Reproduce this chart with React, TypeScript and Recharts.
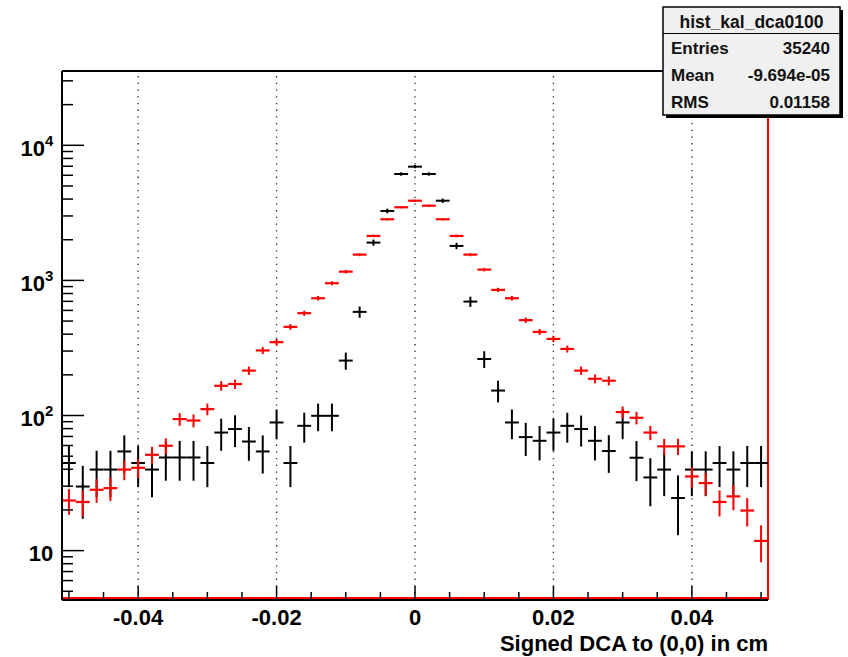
import React from "react"
import { ScatterChart, Scatter, XAxis, YAxis, ErrorBar, ReferenceLine } from "recharts"

// bin centres of the 51 bins (width 0.002 cm)
const binCenters = [
  -0.050, -0.048, -0.046, -0.044, -0.042, -0.040, -0.038, -0.036, -0.034, -0.032,
  -0.030, -0.028, -0.026, -0.024, -0.022, -0.020, -0.018, -0.016, -0.014, -0.012,
  -0.010, -0.008, -0.006, -0.004, -0.002, 0.000, 0.002, 0.004, 0.006, 0.008,
  0.010, 0.012, 0.014, 0.016, 0.018, 0.020, 0.022, 0.024, 0.026, 0.028,
  0.030, 0.032, 0.034, 0.036, 0.038, 0.040, 0.042, 0.044, 0.046, 0.048, 0.050
]
const binHalfWidth = 0.001

// black histogram (hist_kal_dca0100)
const blackCounts = [
  44.5, 29.8, 39.8, 39.8, 54.2, 44.5, 39.8, 48.9, 48.9, 48.9,
  44.5, 74.8, 79.4, 64.2, 54.2, 88.8, 44.5, 83.9, 99.5, 99.5,
  255, 585, 1905, 3266, 6134, 6948, 6134, 3890, 1800, 697,
  262, 153, 88.8, 69.2, 65.0, 74.8, 83.9, 79.4, 65.0, 54.6,
  88.8, 48.7, 34.8, 39.8, 24.5, 39.8, 39.8, 44.5, 39.8, 44.5, 44.5
]
const blackErrors = [
  15, 12.6, 15, 15, 17, 15, 15, 16, 16, 16,
  15, 20, 21, 18, 17, 22, 15, 21, 23, 23,
  37, 56, 100, 130, 180, 190, 180, 145, 98, 61,
  37, 28, 22, 19, 18.5, 20, 21, 20.5, 18.5, 17,
  22, 16, 13.5, 14.5, 11.5, 14.5, 14.5, 15, 14.5, 15, 15
]

// red histogram
const redCounts = [
  23.5, 22.9, 28.2, 29.0, 39.8, 41.0, 51.2, 59.7, 94.1, 91.8,
  111.5, 166, 171, 215, 303, 349, 453, 572, 738, 953,
  1161, 1552, 2134, 2835, 3478, 3890, 3572, 2835, 2134, 1552,
  1202, 851, 738, 508, 416, 369, 311, 215, 187, 181,
  106, 96.2, 74.8, 59.1, 59.1, 35.4, 31.6, 22.9, 25.2, 19.8, 11.8
]
const redErrors = [
  5.1, 5, 5.6, 5.7, 6.6, 6.7, 7.5, 8.1, 10.2, 10,
  11, 13.5, 13.7, 15.4, 18, 19.6, 22, 25, 28.5, 32,
  36, 41, 48, 56, 62, 65, 63, 56, 48, 41,
  36, 30.5, 28.5, 23.5, 21.4, 20, 18.5, 15.4, 14.3, 14,
  10.8, 10.3, 9.1, 8.1, 8.1, 6.2, 5.9, 5, 5.3, 4.7, 3.6
]

const xDomain = [-0.051, 0.051]
const yDomain = [4.31, 35480]

const xMajorTicks = [-0.04, -0.02, 0, 0.02, 0.04]
const xMajorLabels = ["-0.04", "-0.02", "0", "0.02", "0.04"]
const xMinorTicks = [
  -0.05, -0.045, -0.035, -0.03, -0.025, -0.015, -0.01, -0.005,
  0.005, 0.01, 0.015, 0.025, 0.03, 0.035, 0.045, 0.05
]
const yMajorTicks = [10, 100, 1000, 10000]
const yMajorExponents = ["", "2", "3", "4"]
const yMinorTicks = [
  5, 6, 7, 8, 9, 20, 30, 40, 50, 60, 70, 80, 90,
  200, 300, 400, 500, 600, 700, 800, 900,
  2000, 3000, 4000, 5000, 6000, 7000, 8000, 9000, 20000, 30000
]

const xTitle = "Signed DCA to (0,0) in cm"
const statsTitle = "hist_kal_dca0100"
const statsNames = ["Entries", "Mean", "RMS"]
const statsValues = ["35240", "-9.694e-05", "0.01158"]

const font = "'Liberation Sans', Arial, Helvetica, sans-serif"

const blackData = binCenters.map((x, i) => ({ x, y: blackCounts[i], ey: blackErrors[i], ex: binHalfWidth }))
const redData = binCenters.map((x, i) => ({ x, y: redCounts[i], ey: redErrors[i], ex: binHalfWidth }))

const xTicks = [...xMajorTicks, ...xMinorTicks].sort((a, b) => a - b)
const yTicks = [...yMajorTicks, ...yMinorTicks].sort((a, b) => a - b)

function XTick(props: any) {
  const { x, y, payload } = props
  const i = xMajorTicks.indexOf(payload.value)
  return (
    <g>
      <line x1={x} x2={x} y1={y} y2={y - (i >= 0 ? 14 : 8)} stroke="#000" strokeWidth={1.5} />
      {i >= 0 && (
        <text x={x} y={y + 25} textAnchor="middle" fontFamily={font} fontWeight="bold" fontSize={22} fill="#000">
          {xMajorLabels[i]}
        </text>
      )}
    </g>
  )
}

function YTick(props: any) {
  const { x, y, payload } = props
  const i = yMajorTicks.indexOf(payload.value)
  return (
    <g>
      <line x1={x} x2={x + (i >= 0 ? 22 : 11)} y1={y} y2={y} stroke="#000" strokeWidth={1.5} />
      {i >= 0 && (
        <text x={x - 8.7} y={y + 10.4} textAnchor="end" fontFamily={font} fontWeight="bold" fontSize={22} fill="#000">
          10
          {yMajorExponents[i] && <tspan dy={-9.7} fontSize={15}>{yMajorExponents[i]}</tspan>}
        </text>
      )}
    </g>
  )
}

const noShape = () => <g />

export default function App() {
  return (
    <div style={{ position: "absolute", left: 0, top: 0, width: 848, height: 657, background: "#fff" }}>
      <ScatterChart width={848} height={657} margin={{ top: 71, right: 80, bottom: 7, left: 2 }}>
        <XAxis
          dataKey="x"
          type="number"
          domain={xDomain}
          allowDataOverflow
          ticks={xTicks}
          interval={0}
          tick={<XTick />}
          tickLine={false}
          tickSize={0}
          tickMargin={0}
          height={50}
          axisLine={{ stroke: "#000", strokeWidth: 2 }}
        />
        <YAxis
          dataKey="y"
          type="number"
          scale="log"
          domain={yDomain}
          allowDataOverflow
          ticks={yTicks}
          interval={0}
          tick={<YTick />}
          tickLine={false}
          tickSize={0}
          tickMargin={0}
          width={60}
          axisLine={{ stroke: "#000", strokeWidth: 2 }}
        />
        {xMajorTicks.map(t => (
          <ReferenceLine key={t} x={t} stroke="#222" strokeWidth={1.3} strokeDasharray="1.3 5.4" />
        ))}
        <ReferenceLine y={yDomain[1]} stroke="#000" strokeWidth={2} />
        <ReferenceLine
          y={yDomain[0]}
          shape={(p: any) => <line x1={p.x1} x2={p.x2} y1={p.y1 - 2} y2={p.y2 - 2} stroke="#ff0000" strokeWidth={2} />}
        />
        <ReferenceLine x={xDomain[1]} stroke="#ff0000" strokeWidth={2} />

        <Scatter data={blackData} shape={noShape} isAnimationActive={false}>
          <ErrorBar dataKey="ey" direction="y" width={0} stroke="#000" strokeWidth={2} isAnimationActive={false} />
          <ErrorBar dataKey="ex" direction="x" width={0} stroke="#000" strokeWidth={2} isAnimationActive={false} />
        </Scatter>
        <Scatter data={redData} shape={noShape} isAnimationActive={false}>
          <ErrorBar dataKey="ey" direction="y" width={0} stroke="#ff0000" strokeWidth={2} isAnimationActive={false} />
          <ErrorBar dataKey="ex" direction="x" width={0} stroke="#ff0000" strokeWidth={2.2} isAnimationActive={false} />
        </Scatter>
      </ScatterChart>

      <svg width={848} height={657} style={{ position: "absolute", left: 0, top: 0, pointerEvents: "none" }}>
        <text x={768} y={651} textAnchor="end" fontFamily={font} fontWeight="bold" fontSize={22} fill="#000">
          {xTitle}
        </text>
        <rect x={666} y={10} width={177} height={108} fill="#000" />
        <rect x={663} y={7} width={177} height={108} fill="#f0f0f0" stroke="#000" strokeWidth={1.5} />
        <line x1={663} x2={840} y1={33.5} y2={33.5} stroke="#000" strokeWidth={1.2} />
        <text x={751.5} y={27.5} textAnchor="middle" fontFamily={font} fontWeight="bold" fontSize={17.5} fill="#111">
          {statsTitle}
        </text>
        {statsNames.map((n, i) => (
          <g key={n}>
            <text x={671} y={54 + i * 27} fontFamily={font} fontWeight="bold" fontSize={17} fill="#111">{n}</text>
            <text x={830} y={54 + i * 27} textAnchor="end" fontFamily={font} fontWeight="bold" fontSize={17} fill="#111">
              {statsValues[i]}
            </text>
          </g>
        ))}
      </svg>
    </div>
  )
}
